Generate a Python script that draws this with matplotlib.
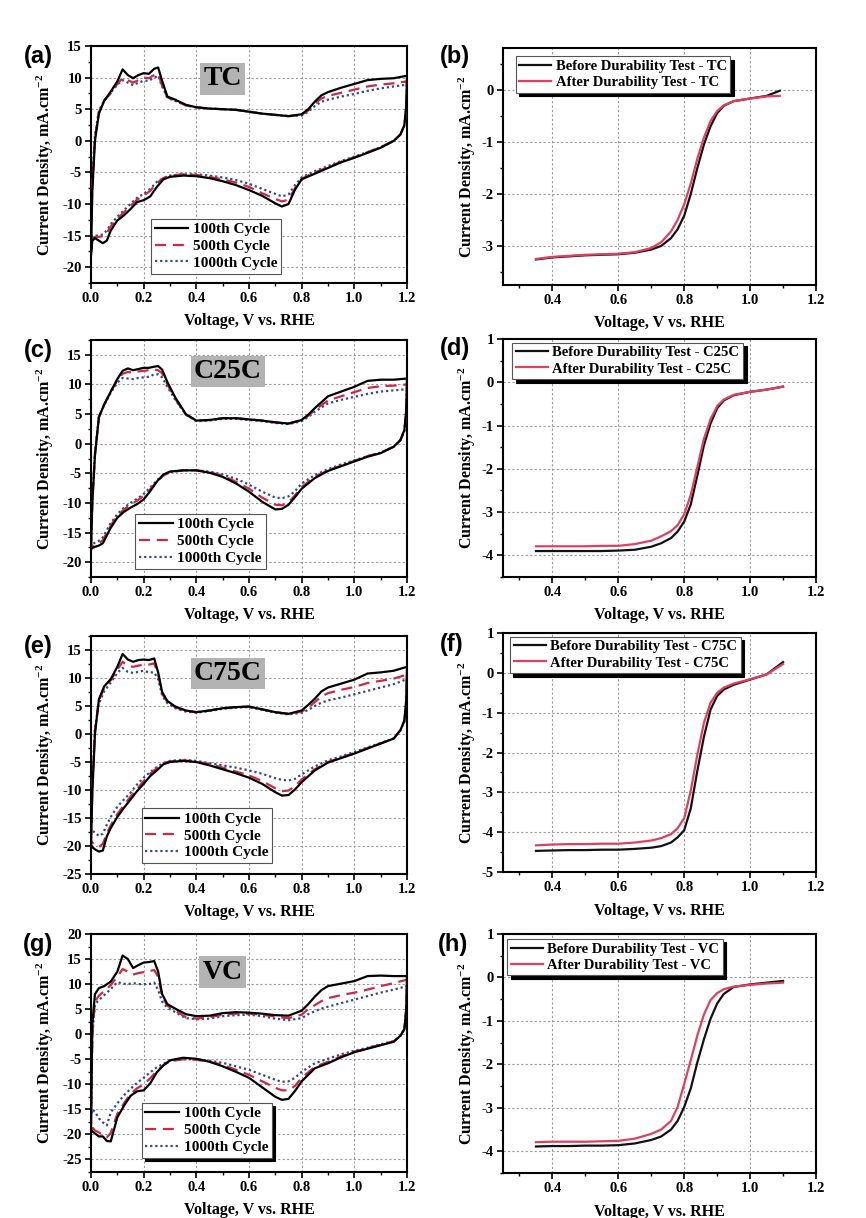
import matplotlib
matplotlib.use("Agg")
import matplotlib.pyplot as plt
from matplotlib.ticker import MultipleLocator, FormatStrFormatter

plt.rcParams.update({
    "font.family": ["Liberation Serif", "DejaVu Serif"],
    "font.weight": "bold",
    "axes.labelweight": "bold",
    "mathtext.fontset": "custom",
    "mathtext.rm": "Liberation Serif:bold",
    "mathtext.bf": "Liberation Serif:bold",
    "mathtext.it": "Liberation Serif:bold:italic",
    "axes.unicode_minus": False,
})

# ---------------- cyclic voltammetry: potential grids (V vs. RHE) ----------------
E_ANODIC = [0, 0.005, 0.015, 0.03, 0.05, 0.075, 0.1,
            0.12, 0.14, 0.16, 0.18, 0.2, 0.22, 0.24, 0.255,
            0.27, 0.29, 0.32, 0.36, 0.4, 0.45, 0.5,
            0.55, 0.6, 0.65, 0.7, 0.75, 0.8, 0.825, 0.85, 0.875,
            0.9, 0.95, 1.0, 1.05, 1.1, 1.15, 1.2]
E_CATHODIC = [1.2, 1.197, 1.19, 1.175, 1.15, 1.1,
              1.05, 1.0, 0.95, 0.9, 0.85, 0.8,
              0.775, 0.75, 0.725, 0.7, 0.65, 0.6, 0.55,
              0.5, 0.45, 0.4, 0.35, 0.3, 0.275, 0.25,
              0.225, 0.2, 0.175, 0.15, 0.125, 0.1,
              0.075, 0.06, 0.045, 0.03, 0.015, 0.005, 0]

CYCLE_LABELS = ["100th Cycle", "500th Cycle", "1000th Cycle"]

# ---- TC ----
TC_100_AN = [-18.0, -8.0, 0.0, 4.3, 6.3, 7.8, 9.4,
             11.3, 10.4, 9.9, 10.4, 10.7, 10.6, 11.4, 11.6,
             9.5, 7.0, 6.5, 5.7, 5.3, 5.1, 5.0,
             4.9, 4.6, 4.3, 4.1, 3.9, 4.2, 5.0, 6.2, 7.2,
             7.7, 8.4, 9.0, 9.6, 9.8, 9.9, 10.3]
TC_500_AN = [-16.0, -7.0, 0.5, 4.5, 6.4, 7.5, 9.0,
             9.9, 9.6, 9.2, 9.6, 10.0, 9.9, 10.4, 10.6,
             8.7, 6.9, 6.4, 5.6, 5.3, 5.1, 5.0,
             4.9, 4.6, 4.3, 4.1, 3.9, 4.1, 4.8, 5.9, 6.7,
             7.1, 7.6, 8.1, 8.6, 8.9, 9.1, 9.4]
TC_1000_AN = [-15.0, -6.0, 1.0, 4.7, 6.4, 7.6, 8.9,
              9.6, 9.2, 8.8, 9.2, 9.5, 9.5, 10.0, 10.3,
              8.6, 6.8, 6.3, 5.6, 5.3, 5.1, 5.0,
              4.9, 4.6, 4.3, 4.1, 3.9, 4.0, 4.6, 5.5, 6.2,
              6.5, 7.0, 7.4, 7.9, 8.3, 8.6, 8.9]
TC_100_CA = [10.3, 5.5, 2.5, 1.0, 0.0, -1.1,
             -1.9, -2.7, -3.4, -4.3, -5.2, -6.1,
             -7.7, -10.0, -10.4, -9.9, -8.7, -7.8, -7.0,
             -6.4, -5.9, -5.6, -5.5, -5.7, -6.1, -7.3,
             -8.8, -9.4, -9.7, -10.8, -11.8, -12.6,
             -14.2, -15.8, -16.2, -15.8, -15.4, -15.8, -18.0]
TC_500_CA = [9.4, 5.0, 2.4, 1.0, 0.0, -1.0,
             -1.8, -2.6, -3.3, -4.2, -5.0, -6.0,
             -7.5, -9.3, -9.6, -9.2, -8.3, -7.3, -6.6,
             -6.1, -5.7, -5.4, -5.3, -5.5, -5.9, -6.7,
             -7.9, -8.7, -9.3, -10.3, -11.3, -12.3,
             -13.5, -14.6, -15.1, -15.2, -15.2, -15.5, -16.0]
TC_1000_CA = [8.9, 4.8, 2.3, 1.0, 0.0, -1.0,
              -1.8, -2.5, -3.2, -4.0, -4.8, -5.8,
              -7.0, -8.5, -8.8, -8.4, -7.6, -6.8, -6.2,
              -5.8, -5.5, -5.3, -5.3, -5.5, -5.9, -6.5,
              -7.6, -8.4, -9.0, -10.0, -11.0, -12.0,
              -13.2, -14.2, -14.8, -15.0, -15.0, -15.2, -15.0]

# ---- C25C ----
C25_100_AN = [-17.8, -10.0, -2.0, 4.5, 6.6, 8.8, 10.9,
              12.3, 12.7, 12.4, 12.6, 12.8, 12.8, 13.0, 13.1,
              12.5, 10.4, 7.8, 5.0, 3.9, 4.0, 4.3,
              4.3, 4.1, 3.9, 3.6, 3.4, 4.0, 4.9, 6.0, 7.0,
              8.0, 8.8, 9.6, 10.6, 10.8, 10.8, 11.0]
C25_500_AN = [-17.5, -9.8, -1.8, 4.5, 6.6, 8.8, 10.7,
              11.8, 12.1, 12.0, 12.2, 12.3, 12.4, 12.5, 12.4,
              11.9, 10.0, 7.6, 4.9, 3.9, 4.0, 4.3,
              4.3, 4.1, 3.9, 3.6, 3.4, 3.9, 4.7, 5.7, 6.5,
              7.3, 8.0, 8.7, 9.4, 9.7, 9.8, 10.0]
C25_1000_AN = [-17.2, -9.5, -1.5, 4.5, 6.5, 8.6, 10.3,
               11.1, 11.0, 10.9, 11.1, 11.2, 11.3, 11.7, 11.7,
               11.2, 9.6, 7.4, 4.9, 3.8, 3.9, 4.2,
               4.2, 4.0, 3.8, 3.5, 3.3, 3.8, 4.5, 5.4, 6.1,
               6.8, 7.4, 7.9, 8.4, 8.8, 9.0, 9.2]
C25_100_CA = [11.0, 5.6, 2.3, 0.6, -0.5, -1.6,
              -2.2, -3.0, -3.8, -4.6, -5.8, -7.6,
              -9.0, -10.3, -11.0, -11.1, -9.8, -8.1, -6.7,
              -5.6, -4.9, -4.5, -4.5, -4.7, -5.2, -6.4,
              -8.0, -9.4, -10.2, -10.8, -11.5, -12.5,
              -14.2, -15.5, -16.8, -17.2, -17.4, -17.6, -17.8]
C25_500_CA = [10.0, 5.2, 2.2, 0.6, -0.5, -1.5,
              -2.1, -2.9, -3.7, -4.5, -5.6, -7.3,
              -8.7, -9.9, -10.4, -10.3, -9.1, -7.6, -6.4,
              -5.4, -4.8, -4.5, -4.5, -4.8, -5.4, -6.4,
              -7.7, -8.8, -9.6, -10.3, -11.1, -12.2,
              -13.8, -15.0, -16.3, -16.8, -17.0, -17.3, -17.5]
C25_1000_CA = [9.2, 5.0, 2.1, 0.6, -0.5, -1.5,
               -2.1, -2.8, -3.5, -4.3, -5.3, -6.7,
               -8.0, -8.9, -9.2, -9.1, -8.1, -6.9, -5.9,
               -5.2, -4.7, -4.5, -4.5, -4.8, -5.3, -6.2,
               -7.4, -8.5, -9.3, -10.0, -10.8, -11.9,
               -13.4, -14.6, -15.8, -16.4, -16.7, -17.0, -17.2]

# ---- C75C ----
C75_100_AN = [-19.8, -10.5, 0.0, 6.2, 8.5, 9.8, 12.0,
              14.3, 13.3, 12.9, 13.2, 13.3, 13.2, 13.5, 11.0,
              7.5, 5.9, 4.9, 4.2, 3.9, 4.2, 4.6,
              4.8, 4.9, 4.4, 3.9, 3.6, 4.2, 5.2, 6.3, 7.6,
              8.3, 9.0, 9.7, 10.8, 11.0, 11.3, 12.0]
C75_500_AN = [-19.0, -10.0, 0.5, 6.0, 8.2, 9.6, 11.5,
              12.9, 12.2, 12.0, 12.2, 12.4, 12.4, 12.6, 10.6,
              7.2, 5.7, 4.8, 4.1, 3.9, 4.2, 4.6,
              4.8, 4.9, 4.4, 3.9, 3.6, 4.0, 4.7, 5.7, 6.7,
              7.3, 7.9, 8.4, 9.1, 9.5, 9.9, 10.6]
C75_1000_AN = [-17.0, -9.0, 1.0, 5.5, 7.6, 9.2, 10.9,
               11.8, 11.1, 10.9, 11.1, 11.3, 11.0, 11.0, 9.8,
               6.9, 5.5, 4.6, 4.0, 3.8, 4.1, 4.5,
               4.7, 4.8, 4.3, 3.8, 3.5, 3.8, 4.3, 5.0, 5.6,
               6.0, 6.5, 7.1, 7.7, 8.3, 8.9, 9.8]
C75_100_CA = [12.0, 6.0, 2.4, 0.7, -0.8, -1.7,
              -2.6, -3.5, -4.3, -5.1, -6.5, -8.6,
              -9.9, -10.9, -11.0, -10.4, -8.9, -7.8, -7.0,
              -6.3, -5.6, -5.0, -4.8, -5.0, -5.4, -6.5,
              -7.5, -8.9, -10.2, -11.7, -13.2, -14.8,
              -16.8, -18.3, -20.8, -21.0, -20.6, -20.2, -19.8]
C75_500_CA = [10.6, 5.5, 2.3, 0.7, -0.8, -1.7,
              -2.5, -3.4, -4.2, -5.0, -6.3, -8.1,
              -9.3, -10.1, -10.2, -9.7, -8.4, -7.4, -6.7,
              -6.0, -5.4, -4.9, -4.7, -4.9, -5.2, -6.1,
              -7.1, -8.4, -9.8, -11.2, -12.7, -14.3,
              -16.3, -17.8, -19.6, -20.2, -19.8, -19.4, -19.0]
C75_1000_CA = [9.8, 5.2, 2.2, 0.6, -0.8, -1.6,
               -2.4, -3.2, -4.0, -4.7, -5.8, -7.2,
               -8.0, -8.3, -8.2, -7.9, -7.1, -6.5, -6.0,
               -5.6, -5.2, -4.8, -4.6, -4.8, -5.2, -5.9,
               -6.8, -7.8, -9.0, -10.5, -11.7, -13.0,
               -14.8, -16.2, -17.8, -18.2, -17.6, -17.3, -17.0]

# ---- VC ----
VC_100_AN = [-19.0, 2.0, 8.0, 9.2, 9.6, 10.5, 12.5,
             15.7, 15.0, 13.2, 13.8, 14.3, 14.4, 14.6, 12.5,
             8.0, 6.0, 5.1, 4.0, 3.6, 3.7, 4.2,
             4.4, 4.3, 4.1, 3.8, 3.7, 4.7, 6.0, 7.5, 8.8,
             9.6, 10.1, 10.6, 11.6, 11.7, 11.6, 11.6]
VC_500_AN = [-18.0, 0.0, 6.5, 7.7, 8.6, 9.8, 11.5,
             13.0, 12.5, 11.9, 12.2, 12.4, 12.6, 12.8, 11.5,
             7.6, 5.7, 4.7, 3.4, 3.1, 3.4, 3.9,
             4.1, 4.1, 3.9, 3.5, 3.2, 3.9, 5.0, 5.8, 6.6,
             7.2, 7.8, 8.3, 8.9, 9.6, 10.2, 10.9]
VC_1000_AN = [-16.0, 0.0, 6.0, 6.8, 7.8, 9.0, 10.4,
              10.1, 10.0, 10.2, 10.0, 10.0, 10.0, 10.3, 8.8,
              6.5, 5.3, 4.4, 3.2, 3.0, 3.1, 3.6,
              3.8, 3.9, 3.6, 3.1, 2.8, 3.2, 4.0, 4.6, 5.1,
              5.5, 6.2, 6.9, 7.6, 8.3, 8.9, 9.6]
VC_100_CA = [11.6, 5.0, 1.0, -0.3, -1.5, -2.2,
             -2.9, -3.6, -4.6, -5.8, -6.8, -9.4,
             -11.3, -12.9, -13.1, -12.5, -10.6, -8.7, -7.5,
             -6.4, -5.5, -4.9, -4.7, -5.2, -6.2, -7.6,
             -9.8, -11.2, -11.4, -12.3, -14.3, -16.6,
             -21.4, -21.3, -20.4, -20.4, -19.8, -19.4, -19.0]
VC_500_CA = [10.9, 4.8, 1.0, -0.3, -1.4, -2.1,
             -2.8, -3.5, -4.4, -5.5, -6.5, -8.7,
             -10.3, -11.2, -11.2, -10.7, -9.4, -8.1, -7.1,
             -6.1, -5.5, -5.1, -5.0, -5.4, -6.2, -7.3,
             -8.8, -10.0, -10.8, -11.9, -13.8, -15.9,
             -19.7, -20.6, -20.2, -19.6, -19.2, -18.6, -18.0]
VC_1000_CA = [9.6, 4.5, 1.0, -0.3, -1.4, -2.0,
              -2.7, -3.3, -4.0, -4.9, -5.8, -7.5,
              -8.7, -9.4, -9.5, -9.1, -8.1, -7.1, -6.4,
              -5.7, -5.3, -5.0, -5.0, -5.3, -5.9, -6.6,
              -7.6, -8.7, -9.7, -10.9, -12.2, -13.8,
              -15.6, -18.2, -17.6, -16.8, -15.5, -15.0, -16.0]

# ---------------- linear sweep voltammetry (durability) ----------------
E_LSV_TC = [0.35, 0.4, 0.45, 0.5, 0.55, 0.6,
            0.65, 0.7, 0.73, 0.76, 0.78, 0.8,
            0.82, 0.84, 0.86, 0.88, 0.9, 0.92,
            0.95, 1.0, 1.05, 1.09]
E_LSV = [0.35, 0.4, 0.45, 0.5, 0.55, 0.6,
         0.65, 0.7, 0.73, 0.76, 0.78, 0.8,
         0.82, 0.84, 0.86, 0.88, 0.9, 0.92,
         0.95, 1.0, 1.05, 1.1]

TC_BEFORE = [-3.26, -3.22, -3.20, -3.18, -3.17, -3.16,
             -3.13, -3.07, -3.00, -2.85, -2.68, -2.42,
             -2.00, -1.50, -1.05, -0.70, -0.45, -0.31,
             -0.22, -0.17, -0.12, -0.02]
TC_AFTER = [-3.25, -3.21, -3.19, -3.17, -3.16, -3.15,
            -3.12, -3.04, -2.93, -2.72, -2.50, -2.20,
            -1.80, -1.32, -0.92, -0.60, -0.41, -0.30,
            -0.22, -0.17, -0.13, -0.12]
C25_BEFORE = [-3.90, -3.90, -3.90, -3.90, -3.90, -3.89,
              -3.87, -3.80, -3.72, -3.60, -3.45, -3.22,
              -2.82, -2.15, -1.45, -0.95, -0.60, -0.42,
              -0.30, -0.22, -0.17, -0.10]
C25_AFTER = [-3.79, -3.79, -3.79, -3.79, -3.78, -3.78,
             -3.74, -3.66, -3.56, -3.44, -3.30, -3.05,
             -2.60, -1.95, -1.30, -0.85, -0.55, -0.40,
             -0.29, -0.22, -0.17, -0.10]
C75_BEFORE = [-4.47, -4.46, -4.45, -4.45, -4.44, -4.44,
              -4.42, -4.39, -4.35, -4.26, -4.13, -3.95,
              -3.40, -2.45, -1.60, -0.92, -0.58, -0.42,
              -0.30, -0.17, -0.04, 0.27]
C75_AFTER = [-4.33, -4.31, -4.30, -4.30, -4.29, -4.29,
             -4.26, -4.21, -4.15, -4.05, -3.90, -3.65,
             -2.95, -2.05, -1.25, -0.75, -0.50, -0.37,
             -0.27, -0.16, -0.04, 0.22]
VC_BEFORE = [-3.89, -3.88, -3.88, -3.87, -3.87, -3.86,
             -3.82, -3.74, -3.66, -3.50, -3.30, -2.98,
             -2.55, -1.95, -1.42, -0.95, -0.60, -0.38,
             -0.22, -0.16, -0.12, -0.08]
VC_AFTER = [-3.79, -3.78, -3.78, -3.78, -3.77, -3.76,
            -3.71, -3.60, -3.50, -3.30, -2.98, -2.45,
            -1.90, -1.33, -0.85, -0.52, -0.36, -0.27,
            -0.21, -0.17, -0.14, -0.12]

# ---------------- styling ----------------
W, H = 866, 1218
CYCLE_STYLES = [
    dict(color="#000000", lw=1.6, ls="-", zorder=4),
    dict(color="#cc2a44", lw=1.6, ls=(0, (5, 3)), zorder=3),
    dict(color="#2e4a8a", lw=1.6, ls=(0, (1, 1.3)), zorder=2),
]
LSV_STYLES = [
    dict(color="#111111", lw=1.6, zorder=3),
    dict(color="#e0405e", lw=1.6, zorder=4),
]
GRID_KW = dict(color="#9a9a9a", linestyle=(0, (2, 2)), linewidth=0.8)

fig = plt.figure(figsize=(W / 100, H / 100), dpi=100)
fig.patch.set_facecolor("white")


def add_axes_px(left, top, right, bottom):
    return fig.add_axes([left / W, 1 - bottom / H, (right - left) / W, (bottom - top) / H])


def style_axes(ax, xmajor, ymajor, xfmt, yfmt, ylab_x):
    ax.xaxis.set_major_locator(MultipleLocator(xmajor))
    ax.xaxis.set_minor_locator(MultipleLocator(xmajor / 2))
    ax.yaxis.set_major_locator(MultipleLocator(ymajor))
    ax.yaxis.set_minor_locator(MultipleLocator(ymajor / 2))
    ax.xaxis.set_major_formatter(FormatStrFormatter(xfmt))
    ax.yaxis.set_major_formatter(FormatStrFormatter(yfmt))
    ax.grid(True, which="major", **GRID_KW)
    ax.set_axisbelow(True)
    ax.tick_params(which="major", direction="out", length=4, width=1.2, labelsize=10.5, pad=2.5)
    ax.tick_params(which="minor", direction="out", length=2.5, width=1.0)
    for sp in ax.spines.values():
        sp.set_linewidth(1.5)
    ax.set_xlabel("Voltage, V vs. RHE", fontsize=11.5, fontweight="bold")
    ax.set_ylabel("Current Density, mA.cm$^{-2}$", fontsize=11.5, fontweight="bold")
    ax.xaxis.set_label_coords(0.5, -0.128)
    ax.yaxis.set_label_coords(ylab_x, 0.5)


def legend_kw(shadow, size):
    kw = dict(fontsize=size, frameon=True, fancybox=False, edgecolor="#555555",
              framealpha=1, borderpad=0.25, labelspacing=0.2, handlelength=2.2,
              handletextpad=0.3, borderaxespad=0)
    if shadow:
        kw["shadow"] = {"ox": 2.5, "oy": -2.5, "color": "black", "alpha": 1.0}
    return kw


def draw_cv(box, cycles, ylim, tag, tag_xy, leg_anchor, shadow):
    ax = add_axes_px(*box)
    for (an, ca), lab, st in zip(cycles, CYCLE_LABELS, CYCLE_STYLES):
        ax.plot(E_ANODIC + E_CATHODIC, an + ca, label=lab, **st)
    ax.set_xlim(0, 1.2)
    ax.set_ylim(*ylim)
    style_axes(ax, 0.2, 5, "%.1f", "%d", -0.11)
    ax.text(tag_xy[0], tag_xy[1], tag, fontsize=20, fontweight="bold", ha="center", va="center",
            zorder=6, bbox=dict(boxstyle="square,pad=0.12", facecolor="#b3b3b3", edgecolor="none"))
    leg = ax.legend(loc="lower left", bbox_to_anchor=leg_anchor, **legend_kw(shadow, 11))
    leg.get_frame().set_linewidth(0.8)
    leg.set_zorder(7)
    return ax


def draw_lsv(box, energy, before, after, name, ylim, leg_anchor):
    ax = add_axes_px(*box)
    labels = ["Before Durability Test - " + name, "After Durability Test - " + name]
    for ys, lab, st in zip([before, after], labels, LSV_STYLES):
        ax.plot(energy, ys, label=lab, **st)
    ax.set_xlim(0.25, 1.2)
    ax.set_ylim(*ylim)
    style_axes(ax, 0.2, 1, "%.1f", "%d", -0.08)
    leg = ax.legend(loc="upper left", bbox_to_anchor=leg_anchor, **legend_kw(True, 10.5))
    leg.get_frame().set_linewidth(0.8)
    leg.set_zorder(7)
    return ax


LEFT_X = (91, 407)
RIGHT_X = (503, 816)

draw_cv((LEFT_X[0], 46, LEFT_X[1], 283),
        [(TC_100_AN, TC_100_CA), (TC_500_AN, TC_500_CA), (TC_1000_AN, TC_1000_CA)],
        (-22.5, 15), "TC", (0.50, 9.8), (0.19, 0.04), False)
draw_cv((LEFT_X[0], 340, LEFT_X[1], 577),
        [(C25_100_AN, C25_100_CA), (C25_500_AN, C25_500_CA), (C25_1000_AN, C25_1000_CA)],
        (-22.5, 17.5), "C25C", (0.52, 12.2), (0.14, 0.035), False)
draw_cv((LEFT_X[0], 636, LEFT_X[1], 874),
        [(C75_100_AN, C75_100_CA), (C75_500_AN, C75_500_CA), (C75_1000_AN, C75_1000_CA)],
        (-25, 17.5), "C75C", (0.52, 10.8), (0.16, 0.045), False)
draw_cv((LEFT_X[0], 934, LEFT_X[1], 1172),
        [(VC_100_AN, VC_100_CA), (VC_500_AN, VC_500_CA), (VC_1000_AN, VC_1000_CA)],
        (-27.5, 20), "VC", (0.50, 12.4), (0.16, 0.06), True)

draw_lsv((RIGHT_X[0], 48, RIGHT_X[1], 285), E_LSV_TC, TC_BEFORE, TC_AFTER, "TC",
         (-3.75, 0.8), (0.04, 0.965))
draw_lsv((RIGHT_X[0], 339, RIGHT_X[1], 577), E_LSV, C25_BEFORE, C25_AFTER, "C25C",
         (-4.5, 1), (0.03, 0.985))
draw_lsv((RIGHT_X[0], 633, RIGHT_X[1], 872), E_LSV, C75_BEFORE, C75_AFTER, "C75C",
         (-5, 1), (0.022, 0.985))
draw_lsv((RIGHT_X[0], 934, RIGHT_X[1], 1173), E_LSV, VC_BEFORE, VC_AFTER, "VC",
         (-4.5, 1), (0.013, 0.98))

# panel letters
PANEL_TAGS = ["(a)", "(b)", "(c)", "(d)", "(e)", "(f)", "(g)", "(h)"]
PANEL_XY = [(38, 56), (455, 56), (38, 350), (455, 349),
            (38, 646), (452, 645), (38, 945), (453, 944)]
for tag, (px, py) in zip(PANEL_TAGS, PANEL_XY):
    fig.text(px / W, 1 - py / H, tag, fontsize=17, fontweight="bold",
             family=["Liberation Sans", "DejaVu Sans"], ha="center", va="center")

fig.savefig("out.png", dpi=100)
